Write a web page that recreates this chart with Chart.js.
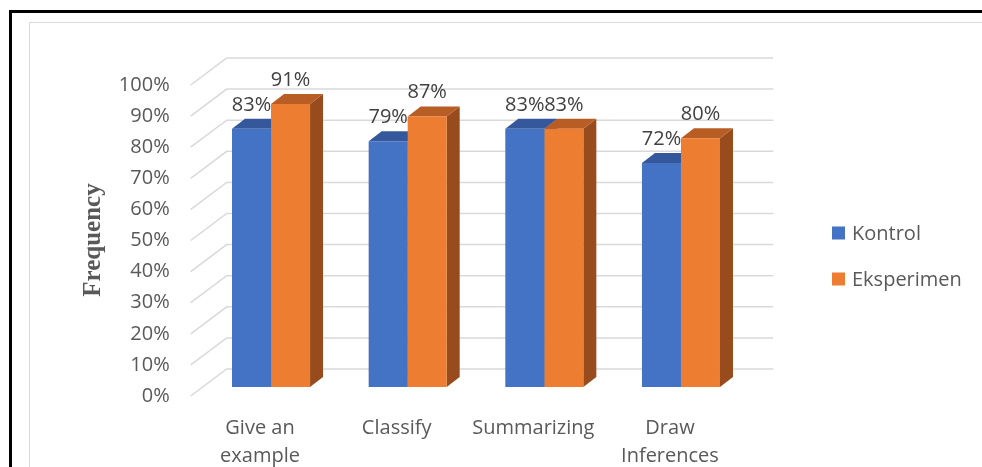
<!DOCTYPE html>
<html>
<head>
<meta charset="utf-8">
<script src="https://cdn.jsdelivr.net/npm/chart.js@4.4.1/dist/chart.umd.min.js"></script>
<style>
html, body { margin: 0; padding: 0; background: #fff; overflow: hidden; }
#wrap { position: relative; width: 982px; height: 467px; overflow: hidden; }
.frame { position: absolute; left: 9px; top: 10px; width: 1100px; height: 600px; border: 3px solid #000; }
.inner { position: absolute; left: 29px; top: 22px; width: 1100px; height: 600px; border: 1px solid #d9d9d9; }
canvas { position: absolute; left: 0; top: 0; }
</style>
</head>
<body>
<div id="wrap">
  <div class="frame"></div>
  <div class="inner"></div>
  <canvas id="myChart" width="982" height="467"></canvas>
</div>
<script>
var categories = [["Give an", "example"], "Classify", "Summarizing", ["Draw", "Inferences"]];
var kontrol = [83, 79, 83, 72];
var eksperimen = [91, 87, 83, 80];
var seriesNames = ["Kontrol", "Eksperimen"];
var yTicks = [0, 10, 20, 30, 40, 50, 60, 70, 80, 90, 100];
var axisTitle = "Frequency";

// fake 3d offsets, in px
var depth = { x: 13, y: -10 };
var wall = { x: 24, y: -18 };
var floorFront = { x: -12, y: 9 };

var threeD = {
  id: "threeD",
  beforeDatasetsDraw(chart) {
    const ctx = chart.ctx, area = chart.chartArea, ys = chart.scales.y;
    ctx.save();
    // back wall grid lines + side wall diagonals
    ctx.strokeStyle = "#d9d9d9";
    ctx.lineWidth = 1.5;
    yTicks.forEach(v => {
      const y = ys.getPixelForValue(v);
      ctx.beginPath();
      ctx.moveTo(area.left + floorFront.x, y + floorFront.y);
      ctx.lineTo(area.left + wall.x, y + wall.y);
      ctx.lineTo(area.right + wall.x, y + wall.y);
      ctx.stroke();
    });
    // side and top faces, behind the front faces
    chart.data.datasets.forEach((ds, i) => {
      chart.getDatasetMeta(i).data.forEach(bar => {
        const p = bar.getProps(["x", "y", "base", "width"], true);
        const l = p.x - p.width / 2, r = p.x + p.width / 2;
        ctx.fillStyle = ds.sideColor;
        ctx.beginPath();
        ctx.moveTo(r, p.y);
        ctx.lineTo(r + depth.x, p.y + depth.y);
        ctx.lineTo(r + depth.x, p.base + depth.y);
        ctx.lineTo(r, p.base);
        ctx.closePath();
        ctx.fill();
        ctx.fillStyle = ds.topColor;
        ctx.beginPath();
        ctx.moveTo(l, p.y);
        ctx.lineTo(l + depth.x, p.y + depth.y);
        ctx.lineTo(r + depth.x, p.y + depth.y);
        ctx.lineTo(r, p.y);
        ctx.closePath();
        ctx.fill();
      });
    });
    ctx.restore();
  },
  afterDatasetsDraw(chart) {
    const ctx = chart.ctx;
    ctx.save();
    ctx.font = "20px 'Open Sans'";
    ctx.fillStyle = "#404040";
    ctx.textAlign = "center";
    ctx.textBaseline = "middle";
    chart.data.datasets.forEach((ds, i) => {
      chart.getDatasetMeta(i).data.forEach((bar, j) => {
        ctx.fillText(ds.data[j] + "%", bar.x, bar.y - 24);
      });
    });
    ctx.restore();
  },
  afterDraw(chart) {
    const ctx = chart.ctx;
    ctx.save();
    // legend
    ctx.font = "20px 'Open Sans'";
    ctx.textBaseline = "middle";
    ctx.textAlign = "left";
    chart.data.datasets.forEach((ds, i) => {
      const y = 233 + i * 46;
      ctx.fillStyle = ds.backgroundColor;
      ctx.fillRect(832, y - 6.5, 13, 13);
      ctx.fillStyle = "#595959";
      ctx.fillText(ds.label, 852, y + 1);
    });
    // y axis title
    ctx.translate(94, 240);
    ctx.rotate(-Math.PI / 2);
    ctx.font = "bold 25px 'Liberation Serif'";
    ctx.fillStyle = "#595959";
    ctx.textAlign = "center";
    ctx.fillText(axisTitle, 0, 0);
    ctx.restore();
  }
};

function makeChart() {
  new Chart("myChart", {
    type: "bar",
    data: {
      labels: categories,
      datasets: [{
        label: seriesNames[0],
        data: kontrol,
        backgroundColor: "#4472C4",
        topColor: "#34589b",
        sideColor: "#2f5190"
      }, {
        label: seriesNames[1],
        data: eksperimen,
        backgroundColor: "#ED7D31",
        topColor: "#b85d23",
        sideColor: "#984c1e"
      }]
    },
    options: {
      responsive: false,
      animation: false,
      categoryPercentage: 0.571,
      barPercentage: 1,
      layout: { padding: { left: 60, top: 76, right: 232.7, bottom: 0 } },
      plugins: { legend: { display: false }, tooltip: { enabled: false } },
      scales: {
        x: {
          grid: { display: false },
          border: { display: false },
          ticks: {
            color: "#595959",
            font: { family: "'Open Sans'", size: 20, lineHeight: 1.4 },
            padding: 19,
            labelOffset: -11,
            maxRotation: 0,
            autoSkip: false
          },
          afterFit(scale) { scale.height = 80; }
        },
        y: {
          min: 0,
          max: 100,
          grid: { display: false },
          border: { display: false },
          ticks: {
            stepSize: 10,
            color: "#595959",
            font: { family: "'Open Sans'", size: 20 },
            padding: 25,
            labelOffset: 9,
            callback: v => v + "%"
          },
          afterFit(scale) { scale.width = 142.7; }
        }
      }
    },
    plugins: [threeD]
  });
}

Promise.all([
  document.fonts.load("20px 'Open Sans'"),
  document.fonts.load("bold 25px 'Liberation Serif'")
]).then(makeChart, makeChart);
</script>
</body>
</html>
